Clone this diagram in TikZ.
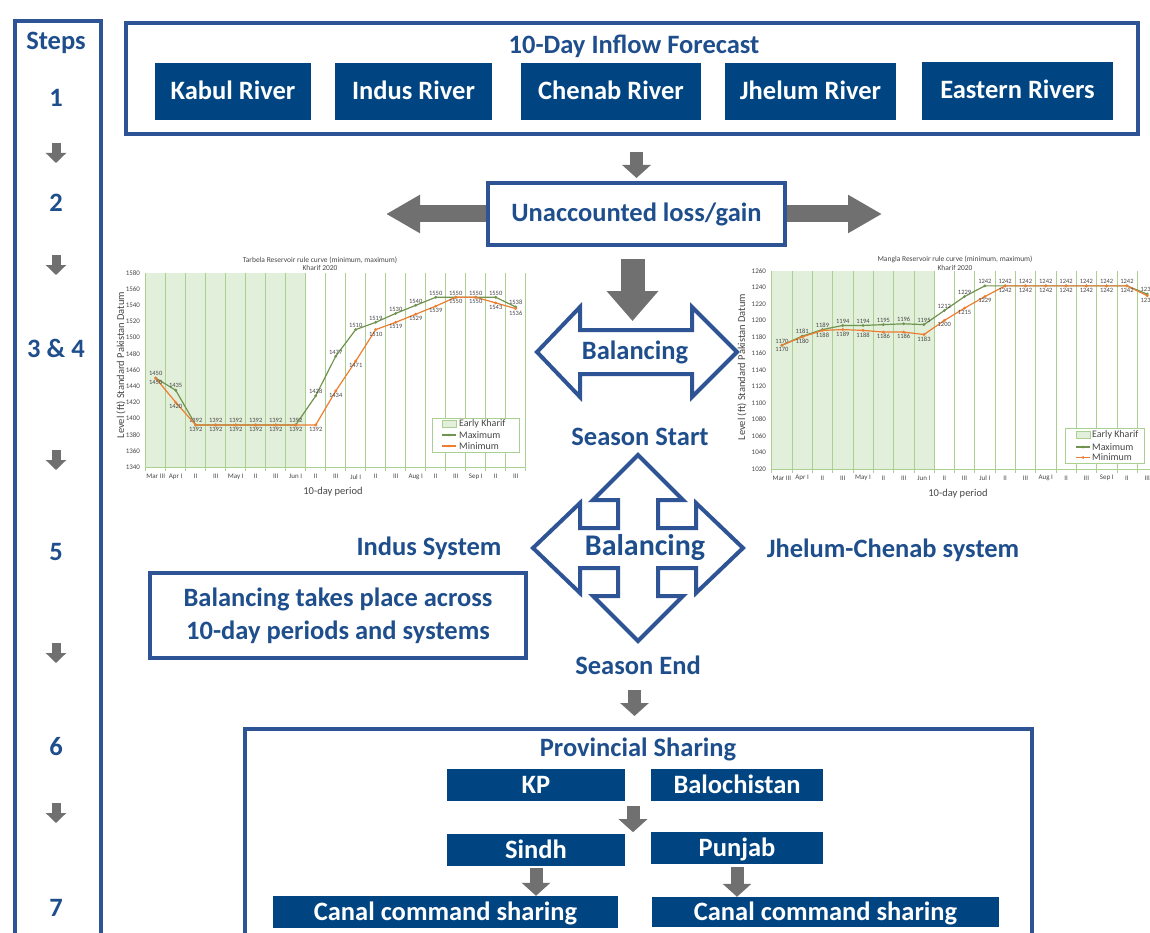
\documentclass[tikz,border=0pt]{standalone}
\usepackage{fontspec}
\setmainfont{Carlito}
\usetikzlibrary{arrows.meta,calc,positioning}

\definecolor{boxblue}{RGB}{0,69,130}
\definecolor{lineblue}{RGB}{47,84,150}
\definecolor{txtblue}{RGB}{31,78,140}
\definecolor{arrowgray}{RGB}{112,112,112}
\definecolor{kharifgreen}{RGB}{226,239,218}
\definecolor{gridgreen}{RGB}{169,208,142}
\definecolor{maxgreen}{RGB}{112,148,80}
\definecolor{minorange}{RGB}{237,125,49}
\definecolor{axisgray}{RGB}{70,70,70}

\newcommand\lblfont{\fontsize{26.5}{33}\selectfont\bfseries}
\newcommand\tarbelamax{1450,1435,1392,1392,1392,1392,1392,1392,1428,1477,1510,1519,1530,1540,1550,1550,1550,1550,1538}
\newcommand\tarbelamin{1450,1420,1392,1392,1392,1392,1392,1392,1392,1434,1471,1510,1519,1529,1539,1550,1550,1543,1536}
\newcommand\manglamax{1170,1181,1189,1194,1194,1195,1196,1195,1212,1229,1242,1242,1242,1242,1242,1242,1242,1242,1232}
\newcommand\manglamin{1170,1180,1188,1189,1188,1186,1186,1183,1200,1215,1229,1242,1242,1242,1242,1242,1242,1242,1230}
\newcommand\periods{Mar III,Apr I,II,III,May I,II,III,Jun I,II,III,Jul I,II,III,Aug I,II,III,Sep I,II,III}

\tikzset{
  blueframe/.style={draw=lineblue, line width=4pt},
  bluebox/.style={fill=boxblue, text=white, font=\lblfont, inner sep=0pt, text height=17pt, text depth=1pt},
  bluetext/.style={text=txtblue, font=\lblfont},
  grayarrow/.style={draw=arrowgray, line width=13pt, -{Triangle[length=13pt,width=28pt]}},
  steparrow/.style={draw=arrowgray, line width=9pt, -{Triangle[length=10pt,width=20pt]}},
  bigarrow/.style={draw=arrowgray, line width=17pt, -{Triangle[length=34pt,width=36pt]}},
  downarrow/.style={draw=arrowgray, line width=24pt, -{Triangle[length=30pt,width=50pt]}},
  balarrow/.style={draw=lineblue, line width=4pt, fill=white, line join=miter},
  gridline/.style={draw=gridgreen, line width=0.6pt},
  ticklbl/.style={font=\fontsize{7}{8}\selectfont, text=axisgray, inner sep=0.5pt},
  datlbl/.style={font=\fontsize{6.5}{7}\selectfont, text=axisgray, inner sep=0.5pt},
  charttitle/.style={font=\fontsize{7.5}{8}\selectfont, text=axisgray, inner sep=0pt},
  axtitle/.style={font=\fontsize{10.5}{12}\selectfont, text=axisgray, inner sep=0pt},
  legtext/.style={font=\fontsize{10}{11}\selectfont, text=axisgray, inner sep=0pt, anchor=west},
  maxline/.style={draw=maxgreen, line width=1.2pt},
  minline/.style={draw=minorange, line width=1.2pt},
}

\begin{document}
\begin{tikzpicture}[x=1pt, y=-1pt]
\useasboundingbox (0,0) rectangle (1150,933);
\clip (0,0) rectangle (1150,933);

% steps column
\node[blueframe, minimum width=86pt, minimum height=940pt, anchor=north west] (stepcol) at (13,19) {};
\node[bluetext] (steps) at (56,43) {Steps};
\node[bluetext] (s1) at (56,98) {1};
\node[bluetext] (s2) at (56,203) {2};
\node[bluetext] (s34) at (56,348) {3 \& 4};
\node[bluetext] (s5) at (56,552) {5};
\node[bluetext] (s6) at (56,747) {6};
\node[bluetext] (s7) at (56,908) {7};
\foreach \y in {153,265,460,653,813}
  \draw[steparrow] (56,\y-10) -- (56,\y+10);

% step 1: inflow forecast
\node[blueframe, minimum width=1012pt, minimum height=111pt] (forecast) at (632,78.5) {};
\node[bluetext] (ftitle) at (634,46) {10-Day Inflow Forecast};
\node[bluebox, minimum width=156pt, minimum height=57pt] (kabul) at (233,91.5) {Kabul River};
\node[bluebox, minimum width=157pt, minimum height=57pt] (indus) at (413.5,91.5) {Indus River};
\node[bluebox, minimum width=180pt, minimum height=57pt] (chenab) at (611,91.5) {Chenab River};
\node[bluebox, minimum width=171pt, minimum height=57pt] (jhelum) at (810.5,91.5) {Jhelum River};
\node[bluebox, minimum width=191pt, minimum height=58pt] (eastern) at (1017.5,91) {Eastern Rivers};

% step 2
\node[blueframe, bluetext, minimum width=297pt, minimum height=62pt] (unacc) at (636.5,214) {Unaccounted loss/gain};
\draw[grayarrow] (unacc.north |- forecast.south) ++(0,16) -- ++(0,26);
\draw[bigarrow] (unacc.west) -- ++(-100,0);
\draw[bigarrow] (unacc.east) -- ++(95,0);
\draw[downarrow] (unacc.south) ++(-4,12) -- ++(0,62);

% step 3 & 4
\draw[balarrow, shift={(637,352)}] (-100,0) -- (-57,-45) -- (-57,-22) -- (55,-22) -- (55,-45)
  -- (100,0) -- (55,45) -- (55,22) -- (-57,22) -- (-57,45) -- cycle;
\node[bluetext] (bal1) at (635,352) {Balancing};
\node[bluetext] (sstart) at (640,437) {Season Start};

% step 5
\draw[balarrow, shift={(638,548)}] (0,-93) -- (45,-48) -- (20,-48) -- (20,-20) -- (58,-20) -- (58,-45)
  -- (105,0) -- (58,45) -- (58,20) -- (20,20) -- (20,48) -- (45,48) -- (0,93) -- (-45,48)
  -- (-20,48) -- (-20,20) -- (-58,20) -- (-58,45) -- (-105,0) -- (-58,-45) -- (-58,-20)
  -- (-20,-20) -- (-20,-48) -- (-45,-48) -- cycle;
\node[bluetext, font=\fontsize{30}{34}\selectfont\bfseries] (bal2) at (645,548) {Balancing};
\node[bluetext] (indsys) at (429,548) {Indus System};
\node[bluetext] (jcsys) at (893,550) {Jhelum-Chenab system};
\node[blueframe, bluetext, minimum width=376pt, minimum height=85pt, align=center] (note) at (338,615.5)
  {Balancing takes place across\\10-day periods and systems};
\node[bluetext] (send) at (638,665) {Season End};

% step 6 & 7
\node[blueframe, minimum width=787pt, minimum height=240pt, anchor=north west] (prov) at (243,727) {};
\draw[grayarrow] (prov.north) ++(-4,-37) -- ++(0,26);
\node[bluetext] (ptitle) at (638,749) {Provincial Sharing};
\node[bluebox, minimum width=178pt, minimum height=32pt] (kp) at (536,785) {KP};
\node[bluebox, minimum width=172pt, minimum height=32pt] (baloch) at (737,785) {Balochistan};
\node[bluebox, minimum width=178pt, minimum height=32pt] (sindh) at (536,850) {Sindh};
\node[bluebox, minimum width=172pt, minimum height=32pt] (punjab) at (737,848) {Punjab};
\node[bluebox, minimum width=345pt, minimum height=32pt] (canal1) at (445.5,912) {Canal command sharing};
\node[bluebox, minimum width=347pt, minimum height=30pt] (canal2) at (825.5,912) {Canal command sharing};
\draw[grayarrow] ($(kp.south east)!.5!(baloch.south west)$) ++(-5,5) -- ++(0,26);
\draw[grayarrow] (sindh.south) ++(0,2) -- (sindh.south |- canal1.north);
\draw[grayarrow] (punjab.south) ++(0,3) -- (punjab.south |- canal2.north);

% Tarbela rule curve
\node[charttitle] (ttitle) at (320,260) {Tarbela  Reservoir rule curve (minimum, maximum)};
\node[charttitle] (tyear) at (320,268) {Kharif 2020};
\begin{scope}[shift={(145.7,467)}, x=20pt, y=0.8083pt]
  \fill[kharifgreen] (0,0) rectangle (8,240);
  \foreach \i in {0,...,19} \draw[gridline] (\i,-5) -- (\i,240);
  \draw[gridline] (0,0) -- (19,0);
  \foreach \v in {1340,1360,...,1580}
    \node[ticklbl, anchor=east] (ty\v) at (-0.25,\v-1340) {\v};
  \foreach \t [count=\i] in \periods
    \node[ticklbl] (tx\i) at (\i-0.5,-12) {\t};
  \foreach \v [count=\i] in \tarbelamax \coordinate (tmax\i) at (\i-0.5,\v-1340);
  \foreach \v [count=\i] in \tarbelamin \coordinate (tmin\i) at (\i-0.5,\v-1340);
  \draw[maxline] (tmax1) foreach \i in {2,...,19} { -- (tmax\i) };
  \foreach \v [count=\i] in \tarbelamax
    \fill[maxgreen] (tmax\i) circle (1.6pt) node[datlbl, above=1.5pt] (tmaxl\i) {\v};
  \draw[minline] (tmin1) foreach \i in {2,...,19} { -- (tmin\i) };
  \foreach \v [count=\i] in \tarbelamin
    \fill[minorange] (tmin\i) circle (1.6pt) node[datlbl, below=1.5pt] (tminl\i) {\v};
\end{scope}
\node[axtitle, rotate=90] (tyax) at (121,365) {Level (ft) Standard Pakistan Datum};
\node[axtitle] (txax) at (333,492) {10-day period};
\node[draw=gridgreen, fill=white, minimum width=87pt, minimum height=34pt] (tleg) at (475.5,435) {};
\fill[kharifgreen, draw=gridgreen] (442,420) rectangle (456,427);
\node[legtext] (tlk) at (459,423.5) {Early Kharif};
\draw[maxline] (442,435) -- (456,435);
\fill[maxgreen] (449,435) circle (1.5pt);
\node[legtext] (tlx) at (459,435) {Maximum};
\draw[minline] (442,446) -- (456,446);
\fill[minorange] (449,446) circle (1.5pt);
\node[legtext] (tln) at (459,446) {Minimum};

% Mangla rule curve
\node[charttitle] (mtitle) at (955,259) {Mangla Reservoir rule curve (minimum, maximum)};
\node[charttitle] (myear) at (955,268) {Kharif 2020};
\begin{scope}[shift={(771.7,469)}, x=20.3pt, y=0.825pt]
  \fill[kharifgreen] (0,0) rectangle (8,240);
  \foreach \i in {0,...,19} \draw[gridline] (\i,-5) -- (\i,240);
  \draw[gridline] (0,0) -- (19,0);
  \foreach \v in {1020,1040,...,1260}
    \node[ticklbl, anchor=east] (my\v) at (-0.25,\v-1020) {\v};
  \foreach \t [count=\i] in \periods
    \node[ticklbl] (mx\i) at (\i-0.5,-11) {\t};
  \foreach \v [count=\i] in \manglamax \coordinate (mmax\i) at (\i-0.5,\v-1020);
  \foreach \v [count=\i] in \manglamin \coordinate (mmin\i) at (\i-0.5,\v-1020);
  \draw[maxline] (mmax1) foreach \i in {2,...,19} { -- (mmax\i) };
  \foreach \v [count=\i] in \manglamax
    \fill[maxgreen] (mmax\i) circle (1.6pt) node[datlbl, above=1.5pt] (mmaxl\i) {\v};
  \draw[minline] (mmin1) foreach \i in {2,...,19} { -- (mmin\i) };
  \foreach \v [count=\i] in \manglamin
    \fill[minorange] (mmin\i) circle (1.6pt) node[datlbl, below=1.5pt] (mminl\i) {\v};
\end{scope}
\node[axtitle, rotate=90] (myax) at (742,367) {Level (ft) Standard Pakistan Datum};
\node[axtitle] (mxax) at (958,494) {10-day period};
\node[draw=gridgreen, fill=white, minimum width=79pt, minimum height=35pt] (mleg) at (1104.5,446) {};
\fill[kharifgreen, draw=gridgreen] (1076,431.5) rectangle (1090,438.5);
\node[legtext] (mlk) at (1092,435) {Early Kharif};
\draw[maxline] (1076,447) -- (1090,447);
\fill[maxgreen] (1083,447) circle (1.5pt);
\node[legtext] (mlx) at (1092,447) {Maximum};
\draw[minline] (1076,457.5) -- (1090,457.5);
\fill[minorange] (1083,457.5) circle (1.5pt);
\node[legtext] (mln) at (1092,457.5) {Minimum};
\end{tikzpicture}
\end{document}
